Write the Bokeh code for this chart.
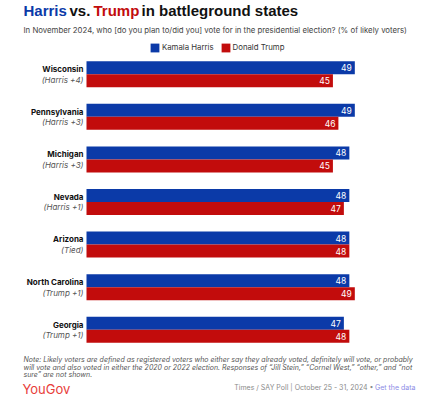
import numpy as np
from bokeh.plotting import figure
from bokeh.models import Range1d, Legend, LegendItem
from bokeh.core.properties import value
from bokeh.embed import file_html
from bokeh.resources import INLINE

states = ["Wisconsin", "Pennsylvania", "Michigan", "Nevada", "Arizona", "North Carolina", "Georgia"]
margins = ["(Harris +4)", "(Harris +3)", "(Harris +3)", "(Harris +1)", "(Tied)", "(Trump +1)", "(Trump +1)"]
harris = [49, 49, 48, 48, 48, 48, 47]
trump = [45, 46, 45, 47, 48, 49, 48]

BLUE = "#0b3aa8"
RED = "#c20c0c"
FONT = "Inter"
TFONT = "Liberation Sans"

OFF = 0
W, H = 443, 398
# layout: screen px -> data
X0, SX = 86.0, 5.476      # value 0 at screen x 86, px per %
Y0, SY = 73.7, 42.6       # first group centre at screen y 73.7, group pitch
def dx(sx):
    return (sx - X0) / SX
def dy(sy):
    return (sy - Y0) / SY

p = figure(width=W, height=H, output_backend="svg", toolbar_location=None,
           min_border=0, outline_line_color=None,
           x_range=Range1d(dx(OFF), dx(OFF + W)), y_range=Range1d(dy(OFF + H), dy(OFF)))
p.axis.visible = False
p.grid.visible = False
p.background_fill_color = "white"
p.border_fill_color = "white"

idx = np.arange(len(states))
bh = 13.0 / SY
yb = idx - bh / 2
yr = idx + bh / 2

rb = p.hbar(y=yb, left=0, right=harris, height=bh, fill_color=BLUE, line_color=None)
rr = p.hbar(y=yr, left=0, right=trump, height=bh, fill_color=RED, line_color=None)

# value labels
p.text(x=harris, y=yb, text=[str(v) for v in harris], x_offset=-3, text_align="right",
       text_baseline="middle", text_color="white", text_font=value(FONT), text_font_size="8.5px")
p.text(x=trump, y=yr, text=[str(v) for v in trump], x_offset=-3, text_align="right",
       text_baseline="middle", text_color="white", text_font=value(FONT), text_font_size="8.5px")

# state labels
lx = [dx(83)] * len(states)
p.text(x=lx, y=idx - 5.3 / SY, text=states, text_align="right", text_baseline="middle",
       text_color="#111111", text_font=value(FONT), text_font_style="bold", text_font_size="8px")
p.text(x=lx, y=idx + 5.3 / SY, text=margins, text_align="right", text_baseline="middle",
       text_color="#555555", text_font=value(FONT), text_font_style="italic", text_font_size="8px")

# title
tstyle = dict(text_baseline="middle", text_font=value(TFONT), text_font_style="bold", text_font_size="15px")
p.text(x=[dx(23)], y=[dy(10)], text=["Harris"], text_color=BLUE, **tstyle)
p.text(x=[dx(69)], y=[dy(10)], text=["vs."], text_color="#111111", **tstyle)
p.text(x=[dx(93)], y=[dy(10)], text=["Trump"], text_color=RED, **tstyle)
p.text(x=[dx(141)], y=[dy(10)], text=["in battleground states"], text_color="#111111", **tstyle)

p.text(x=[dx(23)], y=[dy(29.5)],
       text=["In November 2024, who [do you plan to/did you] vote for in the presidential election? (% of likely voters)"],
       text_baseline="middle", text_color="#444444", text_font=value(FONT), text_font_size="7.8px")

# legend
legend = Legend(items=[LegendItem(label="Kamala Harris", renderers=[rb]),
                       LegendItem(label="Donald Trump", renderers=[rr])],
                orientation="horizontal", location=(149 - OFF, H - (41.7 - OFF) - 11),
                glyph_width=11, glyph_height=11, label_height=11, label_standoff=2,
                spacing=6, padding=0, margin=0, border_line_color=None,
                background_fill_alpha=0, label_text_font=FONT,
                label_text_font_size="7.8px", label_text_color="#333333",
                label_text_baseline="middle")
p.add_layout(legend, "center")

# note
note = ["Note: Likely voters are defined as registered voters who either say they already voted, definitely will vote, or probably",
        "will vote and also voted in either the 2020 or 2022 election. Responses of \u201cJill Stein,\u201d \u201cCornel West,\u201d \u201cother,\u201d and \u201cnot",
        "sure\u201d are not shown."]
p.text(x=[dx(23)] * 3, y=[dy(359), dy(366.7), dy(374.4)], text=note, text_baseline="middle",
       text_color="#555555", text_font=value(FONT), text_font_style="italic", text_font_size="7px")

p.text(x=[dx(22)], y=[dy(388)], text=["YouGov"], text_baseline="middle", text_color="#e8403a",
       text_font=value(FONT), text_font_size="13px")
p.text(x=[dx(373)], y=[dy(387)], text=["Times / SAY Poll | October 25 - 31, 2024 \u2022"], text_align="right",
       text_baseline="middle", text_color="#8a8a8a", text_font=value(FONT), text_font_size="7px")
p.text(x=[dx(374.5)], y=[dy(387)], text=["Get the data"], text_align="left",
       text_baseline="middle", text_color="#8c8ce6", text_font=value(FONT), text_font_size="7px")

open("out.html", "w").write(file_html(p, INLINE))
